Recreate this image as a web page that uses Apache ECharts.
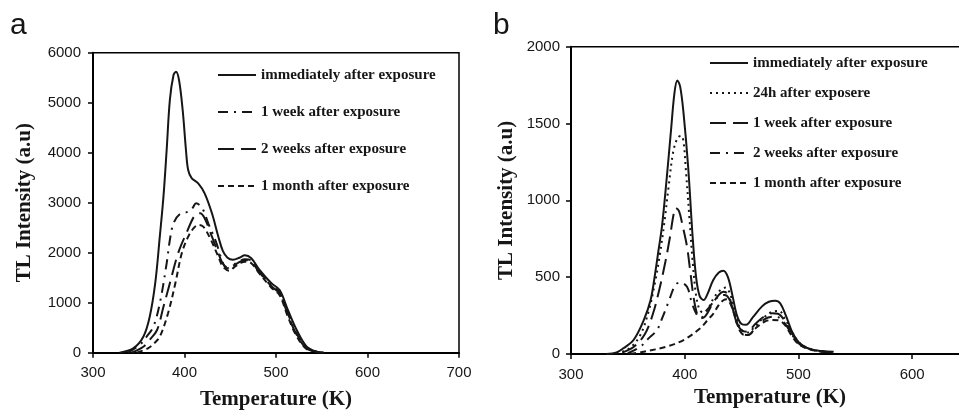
<!DOCTYPE html>
<html>
<head>
<meta charset="utf-8">
<script src="https://cdn.jsdelivr.net/npm/echarts@6/dist/echarts.min.js"></script>
<style>
html,body{margin:0;padding:0;background:#fff;}
#chart{width:959px;height:410px;}
</style>
</head>
<body>
<div id="chart"></div>
<script>
// ---------- Panel a ----------
const aImmT = [329, 344, 355, 362, 368, 373, 377, 380.5, 384, 388, 390.7, 394, 398, 401.6, 404, 408, 415, 422, 430, 437, 442, 447, 453, 460, 466, 473, 482, 495, 504, 513, 522.6, 533.6, 544.5, 552];
const aImmI = [0, 88, 320, 720, 1390, 2320, 3120, 4054, 5054, 5554, 5620, 5454, 4854, 4054, 3654, 3488, 3388, 3188, 2788, 2320, 2030, 1900, 1860, 1900, 1950, 1890, 1654, 1388, 1254, 854, 454, 120, 20, 0];

const a1wT = [338, 351, 359, 366, 373, 380.5, 384, 388, 395, 404, 409, 412.6, 416, 420.5, 426, 435, 440, 446, 453, 460, 466, 473, 482, 495, 504, 513, 522, 533, 545, 552];
const a1wI = [0, 154, 330, 520, 988, 1788, 2254, 2588, 2774, 2820, 2900, 2988, 2960, 2854, 2588, 2188, 1900, 1690, 1750, 1830, 1870, 1840, 1620, 1350, 1200, 780, 400, 100, 15, 0];

const a2wT = [342, 355, 362, 370, 377, 384, 393, 402, 411.5, 417, 422, 430, 437, 442, 448, 455, 462, 466, 473, 482, 495, 504, 513, 522, 533, 545, 552];
const a2wI = [0, 120, 260, 454, 920, 1388, 1988, 2388, 2754, 2788, 2688, 2320, 1988, 1780, 1700, 1760, 1830, 1850, 1820, 1600, 1330, 1180, 760, 380, 90, 15, 0];

const a1mT = [348, 360, 367, 373, 382, 390, 397, 404, 410, 415, 420.5, 428, 437, 442, 449, 455, 462, 466, 473, 482, 495, 504, 513, 522, 533, 545, 552];
const a1mI = [0, 88, 190, 320, 788, 1388, 1988, 2320, 2490, 2554, 2520, 2288, 1920, 1720, 1640, 1720, 1800, 1820, 1790, 1580, 1300, 1150, 720, 350, 80, 15, 0];

// ---------- Panel b ----------
const bImmT = [331, 340, 346, 355, 364, 370, 374, 377, 380, 384, 388, 391, 393.5, 396, 399, 403, 407, 410, 413, 416.6, 420, 425, 430, 434, 438, 442, 446, 450, 454, 460, 468, 474, 479.6, 484, 489, 495, 501, 510, 520, 531];
const bImmI = [0, 10, 37, 91, 221, 351, 525, 677, 830, 1130, 1460, 1700, 1780, 1740, 1565, 1220, 760, 500, 380, 351, 390, 480, 530, 542, 500, 380, 250, 195, 190, 240, 310, 340, 347, 330, 250, 135, 70, 32, 20, 15];

const b24T = [340, 350, 360, 368, 374, 378, 382, 386, 390, 394, 397, 399, 401, 404, 407, 410, 413, 416, 420, 426, 432, 436, 440, 444, 448, 452, 456, 462, 470, 477, 483, 488, 494, 500, 508, 518, 528];
const b24I = [5, 30, 110, 270, 470, 640, 850, 1100, 1320, 1410, 1420, 1380, 1200, 900, 600, 380, 290, 270, 290, 370, 420, 432, 390, 280, 180, 145, 140, 185, 240, 275, 280, 230, 150, 80, 40, 20, 12];

const b1wT = [345, 355, 365, 372, 378, 383, 387, 390, 392, 395, 398, 402, 405, 408, 411, 414, 418, 424, 430, 434, 438, 442, 446, 450, 455, 462, 470, 477, 482, 488, 494, 500, 508, 518, 528];
const b1wI = [10, 45, 130, 260, 430, 600, 760, 900, 950, 930, 840, 700, 530, 360, 260, 232, 245, 320, 385, 405, 390, 300, 200, 155, 145, 195, 245, 265, 262, 215, 140, 75, 38, 20, 12];

const b2wT = [350, 361, 368, 375.6, 380, 385.8, 391.7, 396, 402, 406.4, 410.7, 414, 420, 426, 431, 435, 439, 443, 447, 451, 456, 462, 470, 477, 482, 488, 494, 500, 508, 518, 528];
const b2wI = [5, 48, 100, 156, 230, 340, 449, 465, 438, 330, 254, 235, 290, 345, 380, 384, 360, 270, 175, 130, 124, 170, 225, 243, 240, 200, 130, 70, 35, 18, 10];

const b1mT = [352, 364, 384, 399, 413.6, 420, 425.4, 430, 434, 437, 440, 444, 448, 452, 456, 462, 470, 477, 482, 488, 494, 500, 508, 518, 530];
const b1mI = [0, 15, 48, 91, 167, 220, 265, 320, 350, 356, 330, 250, 160, 125, 124, 165, 210, 221, 220, 190, 120, 65, 35, 18, 10];

// tick / axis labels
const xTitle = 'Temperature (K)';
const yTitle = 'TL Intensity (a.u)';
const namesA = ['immediately after exposure', '1 week after exposure', '2 weeks after exposure', '1 month after exposure'];
const namesB = ['immediately after exposure', '24h after exposere', '1 week after exposure', '2 weeks after exposure', '1 month after exposure'];

function pairs(t, v) { return t.map((x, i) => [x, v[i]]); }

const SANS = '"Liberation Sans", Arial, sans-serif';
const SERIF = '"Liberation Serif", "Times New Roman", serif';
const INK = '#161616';

const SOLID = 'solid';
const DASHDOT = [10, 6, 2, 6];
const LONGDASH = [16, 7];
const SHORTDASH = [6, 4];
const DOTTED = [2, 4];

// suffix to keep panel-b legend entries distinct from panel-a ones
const B = '\u200b';

function mkSeries(name, t, v, type, gi) {
  return {
    name: name, type: 'line', xAxisIndex: gi, yAxisIndex: gi,
    data: pairs(t, v), smooth: 0.35, showSymbol: false, symbol: 'none',
    lineStyle: { color: INK, width: 2, type: type },
    itemStyle: { color: INK },
    silent: true, animation: false
  };
}

function xAxisCfg(gi, max, gap) {
  return {
    type: 'value', gridIndex: gi, min: 300, max: max, interval: 100,
    name: xTitle, nameLocation: 'middle', nameGap: gap,
    nameTextStyle: { fontFamily: SERIF, fontWeight: 'bold', fontSize: 21, color: INK },
    axisLine: { show: true, onZero: false, lineStyle: { color: '#000', width: 2 } },
    axisTick: { show: true, inside: false, length: 5, lineStyle: { color: '#000', width: 1.5 } },
    axisLabel: { fontFamily: SANS, fontSize: 15, color: INK, margin: 13, showMaxLabel: max === 700, formatter: v => String(v) },
    splitLine: { show: false }
  };
}
function yAxisCfg(gi, max, interval, gap, margin) {
  return {
    type: 'value', gridIndex: gi, min: 0, max: max, interval: interval,
    name: yTitle, nameLocation: 'middle', nameGap: gap, nameRotate: 90,
    nameTextStyle: { fontFamily: SERIF, fontWeight: 'bold', fontSize: 21, color: INK },
    axisLine: { show: true, lineStyle: { color: '#000', width: 2 } },
    axisTick: { show: true, inside: false, length: 5, lineStyle: { color: '#000', width: 1.5 } },
    axisLabel: { fontFamily: SANS, fontSize: 15, color: INK, margin: margin, formatter: v => String(v) },
    splitLine: { show: false }
  };
}

const legendCommon = {
  orient: 'vertical', itemWidth: 38, itemHeight: 14, selectedMode: false, padding: 0,
  itemStyle: { opacity: 0, borderWidth: 0 },
  textStyle: { fontFamily: SERIF, fontWeight: 'bold', fontSize: 15, color: INK, lineHeight: 16 }
};

const chart = echarts.init(document.getElementById('chart'), null, { renderer: 'canvas' });
chart.setOption({
  backgroundColor: '#ffffff',
  animation: false,
  title: [
    { text: 'a', left: 10, top: 11, padding: 0, textStyle: { fontFamily: SANS, fontSize: 30, fontWeight: 'normal', color: INK } },
    { text: 'b', left: 493, top: 11, padding: 0, textStyle: { fontFamily: SANS, fontSize: 30, fontWeight: 'normal', color: INK } }
  ],
  grid: [
    { left: 93, top: 52.7, width: 366, height: 300, outerBoundsMode: 'none', containLabel: false, show: true, borderColor: '#000', borderWidth: 1.5, backgroundColor: 'transparent' },
    { left: 571, top: 46.7, width: 398, height: 307.3, outerBoundsMode: 'none', containLabel: false, show: true, borderColor: '#000', borderWidth: 1.5, backgroundColor: 'transparent' }
  ],
  xAxis: [xAxisCfg(0, 700, 36), xAxisCfg(1, 650, 33)],
  yAxis: [yAxisCfg(0, 6000, 1000, 58, 12), yAxisCfg(1, 2000, 500, 54, 11)],
  legend: [
    Object.assign({}, legendCommon, { data: namesA, left: 217, top: 67, itemGap: 21 }),
    Object.assign({}, legendCommon, {
      data: namesB.map(n => n + B), left: 709, top: 55, itemGap: 14,
      formatter: n => n.replace(B, '')
    })
  ],
  series: [
    mkSeries(namesA[0], aImmT, aImmI, SOLID, 0),
    mkSeries(namesA[1], a1wT, a1wI, DASHDOT, 0),
    mkSeries(namesA[2], a2wT, a2wI, LONGDASH, 0),
    mkSeries(namesA[3], a1mT, a1mI, SHORTDASH, 0),
    mkSeries(namesB[0] + B, bImmT, bImmI, SOLID, 1),
    mkSeries(namesB[1] + B, b24T, b24I, DOTTED, 1),
    mkSeries(namesB[2] + B, b1wT, b1wI, LONGDASH, 1),
    mkSeries(namesB[3] + B, b2wT, b2wI, DASHDOT, 1),
    mkSeries(namesB[4] + B, b1mT, b1mI, SHORTDASH, 1)
  ]
});
</script>
</body>
</html>
